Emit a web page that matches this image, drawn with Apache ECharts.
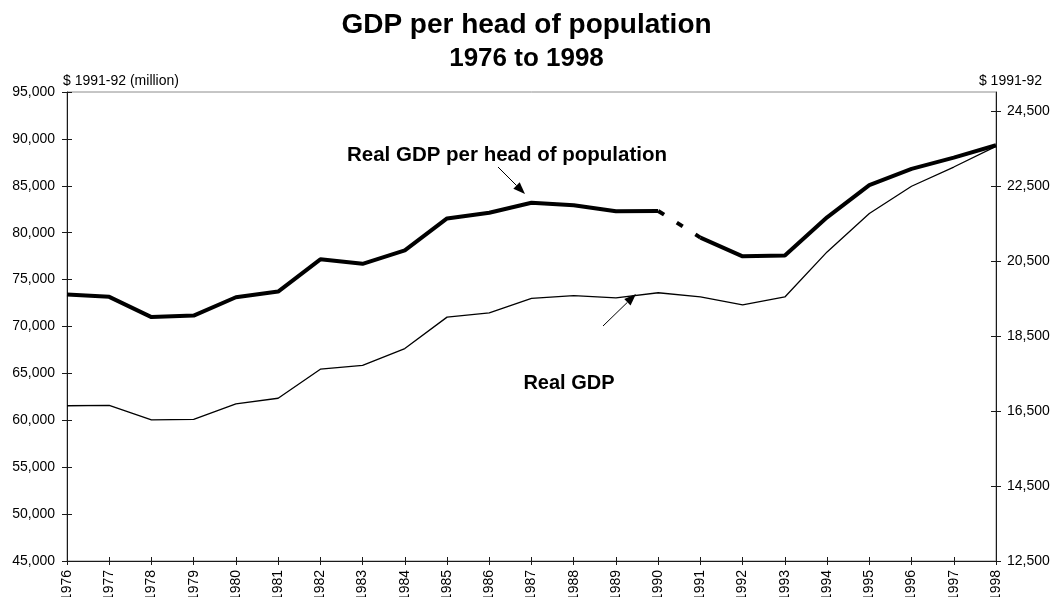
<!DOCTYPE html>
<html>
<head>
<meta charset="utf-8">
<title>GDP per head of population</title>
<script src="https://cdn.jsdelivr.net/npm/echarts@6/dist/echarts.min.js"></script>
<style>
  html, body { margin: 0; padding: 0; background: #fff; }
  #chart { width: 1053px; height: 597px; }
</style>
</head>
<body>
<div id="chart"></div>
<script>
// Financial years shown on the category axis
const years = ['1976', '1977', '1978', '1979', '1980', '1981', '1982', '1983', '1984', '1985', '1986',
  '1987', '1988', '1989', '1990', '1991', '1992', '1993', '1994', '1995', '1996', '1997', '1998'];

// Real GDP, $ 1991-92 (million) — left axis
const realGdp = [61550, 61600, 60050, 60100, 61750, 62350, 65450, 65850, 67650, 71000, 71450,
  73000, 73300, 73050, 73600, 73150, 72300, 73150, 77950, 82050, 84950, 87000, 89200];

// Real GDP per head of population, $ 1991-92 — right axis
const gdpPerHead = [19600, 19540, 19000, 19040, 19530, 19680, 20540, 20420, 20780, 21630, 21780,
  22050, 21980, 21820, 21830, 21120, 20620, 20640, 21660, 22520, 22950, 23250, 23580];

// The per-head series is drawn dashed between these two years
const breakFrom = '1990';
const breakTo = '1991';

// Axis scales and tick values
const leftMin = 45000, leftMax = 95000, leftStep = 5000;
const rightMin = 12500, rightMax = 25000;
const rightTicks = [12500, 14500, 16500, 18500, 20500, 22500, 24500];

const FONT = '"Liberation Sans", Arial, Helvetica, sans-serif';
const INK = '#000';
const AXIS = '#1a1a1a';

const iFrom = years.indexOf(breakFrom);
const iTo = years.indexOf(breakTo);
const headBefore = gdpPerHead.map((v, i) => (i <= iFrom ? v : null));
const headBreak = gdpPerHead.map((v, i) => (i >= iFrom && i <= iTo ? v : null));
const headAfter = gdpPerHead.map((v, i) => (i >= iTo ? v : null));

const fmt = v => Number(v).toLocaleString('en-US');

// Arrow annotation: a thin shaft ending in a filled triangular head
function arrow(x1, y1, x2, y2, headLen, headWidth) {
  const dx = x2 - x1, dy = y2 - y1;
  const len = Math.hypot(dx, dy);
  const ux = dx / len, uy = dy / len;
  const nx = -uy, ny = ux;
  const bx = x2 - ux * headLen, by = y2 - uy * headLen;
  return [
    { type: 'line', silent: true, z: 100,
      shape: { x1: x1, y1: y1, x2: bx, y2: by },
      style: { stroke: INK, lineWidth: 1 } },
    { type: 'polygon', silent: true, z: 100,
      shape: { points: [[x2, y2], [bx + nx * headWidth / 2, by + ny * headWidth / 2], [bx - nx * headWidth / 2, by - ny * headWidth / 2]] },
      style: { fill: INK } }
  ];
}

const tickStyle = { color: AXIS, width: 1 };

const chart = echarts.init(document.getElementById('chart'), null, { renderer: 'canvas' });

chart.setOption({
  backgroundColor: '#fff',
  animation: false,
  title: {
    text: 'GDP per head of population',
    subtext: '1976 to 1998',
    left: 'center',
    top: 6,
    itemGap: 7,
    textStyle: { fontFamily: FONT, fontSize: 28, fontWeight: 'bold', color: INK },
    subtextStyle: { fontFamily: FONT, fontSize: 26, fontWeight: 'bold', color: INK }
  },
  grid: {
    show: true, borderColor: '#8c8c8c', borderWidth: 1, backgroundColor: 'transparent',
    left: 67, right: 57, top: 92, bottom: 36,
    containLabel: false, outerBoundsMode: 'none'
  },
  xAxis: [
    {
      type: 'category',
      data: years,
      boundaryGap: false,
      axisLine: { show: true, lineStyle: { color: AXIS, width: 1 } },
      axisTick: { show: true, inside: false, length: 4, lineStyle: tickStyle, interval: 0 },
      axisLabel: { interval: 0, rotate: 90, margin: 9, color: INK, fontFamily: FONT, fontSize: 14, hideOverlap: false },
      splitLine: { show: false }
    },
    {
      // inner half of the crossing ticks on the year axis
      type: 'category',
      data: years,
      boundaryGap: false,
      position: 'bottom',
      axisLine: { show: false },
      axisTick: { show: true, inside: true, length: 4, lineStyle: tickStyle, interval: 0 },
      axisLabel: { show: false },
      splitLine: { show: false }
    }
  ],
  yAxis: [
    {
      type: 'value',
      position: 'left',
      min: leftMin, max: leftMax, interval: leftStep,
      axisLine: { show: true, lineStyle: { color: AXIS, width: 1 } },
      axisTick: { show: true, inside: false, length: 5, lineStyle: tickStyle },
      axisLabel: { margin: 12, color: INK, fontFamily: FONT, fontSize: 14, formatter: fmt },
      splitLine: { show: false }
    },
    {
      type: 'value',
      position: 'right',
      min: rightMin, max: rightMax,
      axisLine: { show: true, lineStyle: { color: AXIS, width: 1 } },
      axisTick: { show: true, inside: false, length: 5, lineStyle: tickStyle, customValues: rightTicks },
      axisLabel: { margin: 11, color: INK, fontFamily: FONT, fontSize: 14, formatter: fmt, customValues: rightTicks },
      splitLine: { show: false }
    },
    {
      // inner half of the crossing ticks on the left axis
      type: 'value',
      position: 'left',
      min: leftMin, max: leftMax, interval: leftStep,
      axisLine: { show: false },
      axisTick: { show: true, inside: true, length: 5, lineStyle: tickStyle },
      axisLabel: { show: false },
      splitLine: { show: false }
    },
    {
      // inner half of the crossing ticks on the right axis
      type: 'value',
      position: 'right',
      min: rightMin, max: rightMax,
      axisLine: { show: false },
      axisTick: { show: true, inside: true, length: 5, lineStyle: tickStyle, customValues: rightTicks },
      axisLabel: { show: false, customValues: rightTicks },
      splitLine: { show: false }
    }
  ],
  series: [
    {
      name: 'Real GDP',
      type: 'line',
      yAxisIndex: 0,
      data: realGdp,
      symbol: 'none',
      lineStyle: { color: INK, width: 1.3 },
      z: 3
    },
    {
      name: 'Real GDP per head of population',
      type: 'line',
      yAxisIndex: 1,
      data: headBefore,
      symbol: 'none',
      connectNulls: false,
      lineStyle: { color: INK, width: 4 },
      z: 4
    },
    {
      name: 'Real GDP per head of population (break)',
      type: 'line',
      yAxisIndex: 1,
      data: headBreak,
      symbol: 'none',
      connectNulls: false,
      lineStyle: { color: INK, width: 4, type: [7, 15], cap: 'butt' },
      z: 4
    },
    {
      name: 'Real GDP per head of population (cont.)',
      type: 'line',
      yAxisIndex: 1,
      data: headAfter,
      symbol: 'none',
      connectNulls: false,
      lineStyle: { color: INK, width: 4 },
      z: 4
    }
  ],
  graphic: [
    { type: 'text', x: 63, y: 81, silent: true,
      style: { text: '$ 1991-92 (million)', font: '14px ' + FONT, fill: INK, textAlign: 'left', textVerticalAlign: 'middle' } },
    { type: 'text', x: 1042, y: 81, silent: true,
      style: { text: '$ 1991-92', font: '14px ' + FONT, fill: INK, textAlign: 'right', textVerticalAlign: 'middle' } },
    { type: 'text', x: 507, y: 155, silent: true, z: 100,
      style: { text: 'Real GDP per head of population', font: 'bold 20.5px ' + FONT, fill: INK, textAlign: 'center', textVerticalAlign: 'middle' } },
    { type: 'text', x: 569, y: 383, silent: true, z: 100,
      style: { text: 'Real GDP', font: 'bold 20px ' + FONT, fill: INK, textAlign: 'center', textVerticalAlign: 'middle' } }
  ].concat(arrow(498, 167, 525, 194, 12, 9), arrow(603, 326, 636, 294, 12, 9))
});
</script>
</body>
</html>
